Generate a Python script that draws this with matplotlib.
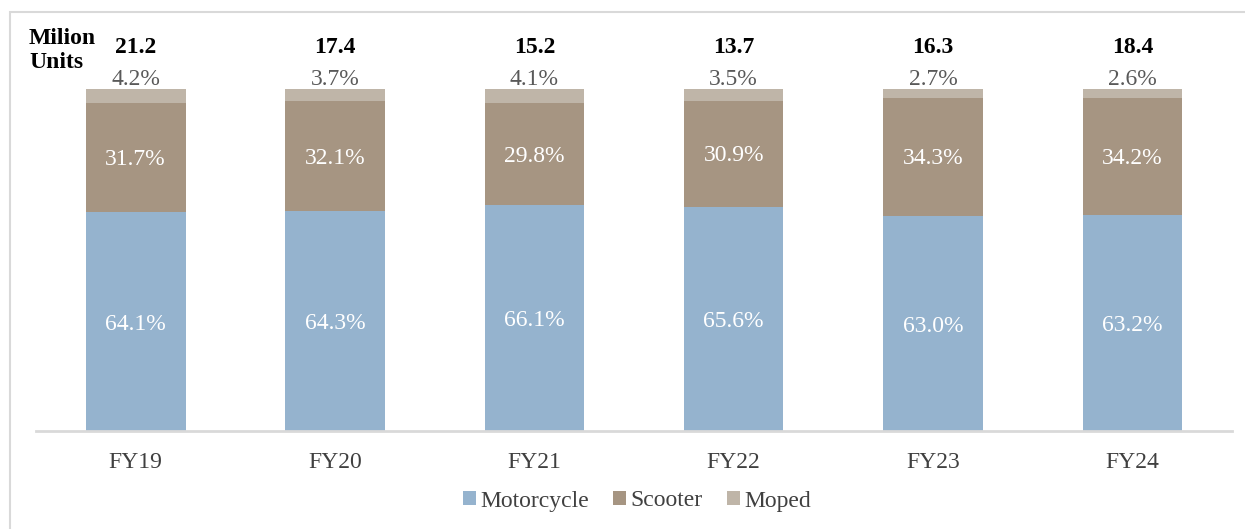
import numpy as np
import matplotlib.pyplot as plt
from matplotlib.patches import Rectangle

categories = ['FY19', 'FY20', 'FY21', 'FY22', 'FY23', 'FY24']
totals = [21.2, 17.4, 15.2, 13.7, 16.3, 18.4]
motorcycle = [64.1, 64.3, 66.1, 65.6, 63.0, 63.2]
scooter = [31.7, 32.1, 29.8, 30.9, 34.3, 34.2]
moped = [4.2, 3.7, 4.1, 3.5, 2.7, 2.6]

plt.rcParams['font.family'] = ['Liberation Serif', 'DejaVu Serif']

W, H = 1245, 529
fig = plt.figure(figsize=(W / 100, H / 100), dpi=100)
ax = fig.add_axes([36 / W, 1 - 431 / H, 1196 / W, 342 / H])

# cadre gris clair
fig.patches.append(Rectangle((10 / W, -0.1), 1.2, 1 - 12 / H + 0.1, transform=fig.transFigure,
                             fill=False, edgecolor='#D9D9D9', linewidth=1.5))

c_moto, c_scoot, c_moped = '#95B3CE', '#A69582', '#BFB5A8'
x = np.arange(len(categories))
moto = np.array(motorcycle)
sc = np.array(scooter)
mo = np.array(moped)

ax.bar(x, moto, width=0.5, color=c_moto, label='Motorcycle')
ax.bar(x, sc, width=0.5, bottom=moto, color=c_scoot, label='Scooter')
ax.bar(x, mo, width=0.5, bottom=moto + sc, color=c_moped, label='Moped')

fs = 17
for i in range(len(x)):
    ax.text(x[i], moto[i] / 2 - 0.8, f'{moto[i]:.1f}%', ha='center', va='center', color='white', fontsize=fs)
    ax.text(x[i], moto[i] + sc[i] / 2 - 0.6, f'{sc[i]:.1f}%', ha='center', va='center', color='white', fontsize=fs)
    ax.text(x[i], 102.9, f'{mo[i]:.1f}%', ha='center', va='center', color='#595959', fontsize=fs, clip_on=False)
    ax.text(x[i], 112.2, f'{totals[i]:.1f}', ha='center', va='center', color='black', fontsize=fs,
            fontweight='bold', clip_on=False)

fig.text(29 / W, 1 - 39 / H, 'Milion', ha='left', va='center', fontsize=fs, fontweight='bold')
fig.text(29 / W, 1 - 63 / H, 'Units', ha='left', va='center', fontsize=fs, fontweight='bold')

ax.set_xlim(-0.5, 5.5)
ax.set_ylim(0, 100)
ax.set_xticks(x)
ax.set_xticklabels(categories, fontsize=fs, color='#404040')
ax.tick_params(axis='x', length=0, pad=15)
ax.set_yticks([])
for s in ['top', 'right', 'left']:
    ax.spines[s].set_visible(False)
ax.spines['bottom'].set_color('#D9D9D9')
ax.spines['bottom'].set_linewidth(2)

leg = fig.legend(loc='center', bbox_to_anchor=(637 / W, 1 - 501 / H), ncol=3, frameon=False,
                 fontsize=fs, handlelength=0.55, handleheight=0.55, handletextpad=0.2, columnspacing=1.0)
for t in leg.get_texts():
    t.set_color('#404040')

fig.savefig('out.png', dpi=100)
